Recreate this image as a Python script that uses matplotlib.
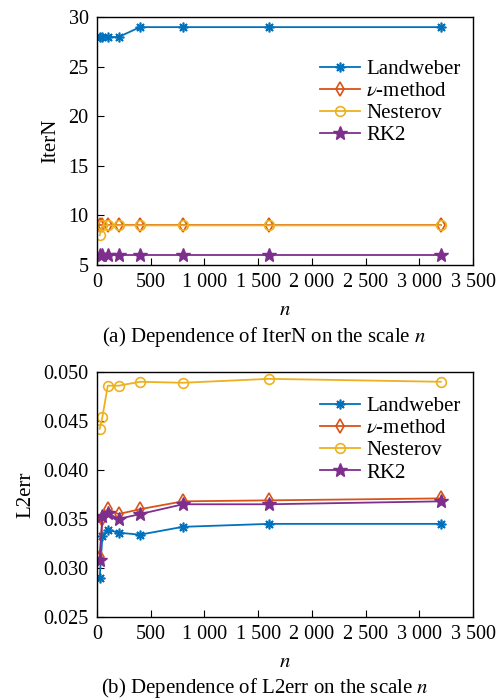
#!/bin/env python3
"""
IterN and L2err against the scale n for four iterative methods.
"""
import matplotlib
matplotlib.use("Agg")
import matplotlib.pyplot as plt

# scale n
n_vals = [25, 50, 100, 200, 400, 800, 1600, 3200]

# number of iterations
iter_landweber = [28, 28, 28, 28, 29, 29, 29, 29]
iter_vmethod = [9, 9, 9, 9, 9, 9, 9, 9]
iter_nesterov = [8, 9, 9, 9, 9, 9, 9, 9]
iter_rk2 = [6, 6, 6, 6, 6, 6, 6, 6]

# L2 error
err_landweber = [0.0290, 0.0333, 0.0339, 0.0336, 0.0334, 0.0342, 0.0345, 0.0345]
err_vmethod = [0.0311, 0.0350, 0.0360, 0.0355, 0.0360, 0.0368, 0.0369, 0.0371]
err_nesterov = [0.0442, 0.0454, 0.0486, 0.0486, 0.0490, 0.0489, 0.0493, 0.0490]
err_rk2 = [0.0308, 0.0353, 0.0356, 0.0350, 0.0355, 0.0365, 0.0365, 0.0368]

labels = ["Landweber", r"$\nu$-method", "Nesterov", "RK2"]
x_ticks = [0, 500, 1000, 1500, 2000, 2500, 3000, 3500]
x_ticklabels = ["0", "500", "1 000", "1 500", "2 000", "2 500", "3 000", "3 500"]

colors = ["#0072BD", "#D95319", "#EDB120", "#7E2F8E"]

plt.rcParams["font.family"] = ["Liberation Serif", "DejaVu Serif"]
plt.rcParams["mathtext.fontset"] = "stix"
plt.rcParams["font.size"] = 14


def draw(ax, series, ylim, yticks, ylabel, yfmt, leg_y):
    styles = [
        dict(marker=(8, 2, 0), markersize=7, markeredgewidth=1.2),
        dict(marker="d", markersize=7, markerfacecolor="none", markeredgewidth=1.2),
        dict(marker="o", markersize=7, markerfacecolor="none", markeredgewidth=1.2),
        dict(marker="*", markersize=10),
    ]
    for y, lab, c, st in zip(series, labels, colors, styles):
        ax.plot(n_vals, y, color=c, lw=1.3, label=lab, **st)
    ax.set_xlim(0, 3500)
    ax.set_ylim(*ylim)
    ax.set_xticks(x_ticks)
    ax.set_xticklabels(x_ticklabels)
    ax.set_yticks(yticks)
    ax.set_yticklabels([yfmt.format(v) for v in yticks])
    ax.tick_params(direction="in", length=5, top=False, right=False,
                   labelsize=14.5, pad=6)
    ax.set_xlabel("$n$", fontsize=15, labelpad=6)
    ax.set_ylabel(ylabel, fontsize=15, labelpad=6)
    for s in ax.spines.values():
        s.set_linewidth(1.0)
    ax.legend(loc="upper right", bbox_to_anchor=(1.0, leg_y), frameon=False,
              fontsize=15, handlelength=1.9, handletextpad=0.3, labelspacing=0.12,
              borderaxespad=0.2)


fig = plt.figure(figsize=(5.04, 7.0), dpi=100)
ax1 = fig.add_axes([0.1925, 0.6214, 0.746, 0.354])
ax2 = fig.add_axes([0.1925, 0.1186, 0.746, 0.350])

draw(ax1, [iter_landweber, iter_vmethod, iter_nesterov, iter_rk2],
     (5, 30), [5, 10, 15, 20, 25, 30], "IterN", "{:g}", 0.88)
draw(ax2, [err_landweber, err_vmethod, err_nesterov, err_rk2],
     (0.025, 0.050), [0.025, 0.030, 0.035, 0.040, 0.045, 0.050], "L2err", "{:.3f}", 0.95)

fig.text(0.525, 1 - 337 / 700, "(a) Dependence of IterN on the scale $n$",
         ha="center", va="center", fontsize=15)
fig.text(0.525, 1 - 688 / 700, "(b) Dependence of L2err on the scale $n$",
         ha="center", va="center", fontsize=15)

fig.savefig("out.png", dpi=100)
